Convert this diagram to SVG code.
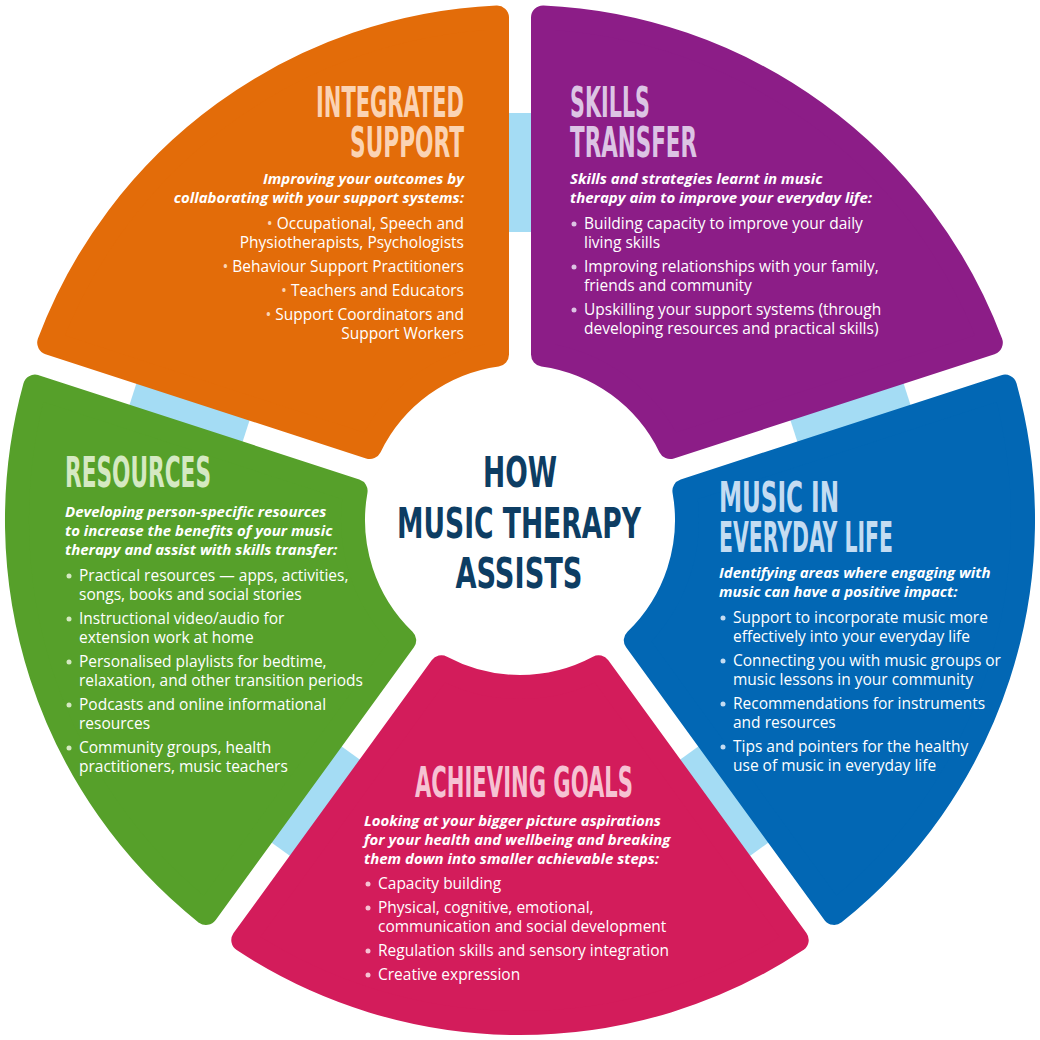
<svg xmlns="http://www.w3.org/2000/svg" width="1040" height="1040" viewBox="0 0 1040 1040">
<style>
.seg{stroke-width:24;stroke-linejoin:round}
.h{font-family:"DejaVu Sans Condensed","DejaVu Sans",sans-serif;font-weight:bold;font-size:42px;font-stretch:condensed}
.c{fill:#0d3d63}
.i{font-family:"Open Sans",sans-serif;font-weight:bold;font-style:italic;font-size:15px;fill:#fff}
.b{font-family:"Open Sans",sans-serif;font-size:15.5px;fill:#fff}
</style>
<rect width="1040" height="1040" fill="#fff"/>
<g id="connectors" fill="#a4dcf4">
<rect x="288" y="-12" width="119" height="24" transform="translate(520 520) rotate(-90)"/>
<rect x="288" y="-12" width="119" height="24" transform="translate(520 520) rotate(-18)"/>
<rect x="288" y="-12" width="119" height="24" transform="translate(520 520) rotate(54)"/>
<rect x="288" y="-12" width="119" height="24" transform="translate(520 520) rotate(126)"/>
<rect x="288" y="-12" width="119" height="24" transform="translate(520 520) rotate(198)"/>
</g>
<g id="integrated">
<path class="seg" fill="#e36c09" stroke="#e36c09" d="M49.2 342.8 A503 503 0 0 1 497 17.5 L497 354.6 A167 167 0 0 0 369.8 447 Z"/>
<g fill="#fbd3b3" class="h" text-anchor="end"><text x="464" y="117" textLength="148" lengthAdjust="spacingAndGlyphs">INTEGRATED</text><text x="464" y="157" textLength="114" lengthAdjust="spacingAndGlyphs">SUPPORT</text></g>
<g text-anchor="end"><text class="i" x="464" y="184">Improving your outcomes by</text><text class="i" x="464" y="203">collaborating with your support systems:</text>
<text class="b" x="464" y="229"><tspan fill="#fbd3b3">•</tspan>  Occupational, Speech and</text><text class="b" x="464" y="248">Physiotherapists, Psychologists</text><text class="b" x="464" y="272"><tspan fill="#fbd3b3">•</tspan>  Behaviour Support Practitioners</text><text class="b" x="464" y="296"><tspan fill="#fbd3b3">•</tspan>  Teachers and Educators</text><text class="b" x="464" y="320"><tspan fill="#fbd3b3">•</tspan>  Support Coordinators and</text><text class="b" x="464" y="339">Support Workers</text></g>
</g>
<g id="skills">
<path class="seg" fill="#8c1d87" stroke="#8c1d87" d="M543 17.5 A503 503 0 0 1 990.8 342.8 L670.2 447 A167 167 0 0 0 543 354.6 Z"/>
<g fill="#dcc4e4" class="h"><text x="570" y="117" textLength="80" lengthAdjust="spacingAndGlyphs">SKILLS</text><text x="570" y="157" textLength="127" lengthAdjust="spacingAndGlyphs">TRANSFER</text></g>
<text class="i" x="570" y="184">Skills and strategies learnt in music</text><text class="i" x="570" y="203">therapy aim to improve your everyday life:</text>
<text class="b" x="584" y="229">Building capacity to improve your daily</text><text class="b" x="584" y="248">living skills</text>
<text class="b" x="584" y="272">Improving relationships with your family,</text><text class="b" x="584" y="291">friends and community</text>
<text class="b" x="584" y="315">Upskilling your support systems (through</text><text class="b" x="584" y="334">developing resources and practical skills)</text>
<g fill="#dcc4e4"><circle cx="574" cy="224" r="2.5"/><circle cx="574" cy="267" r="2.5"/><circle cx="574" cy="310" r="2.5"/></g>
</g>
<g id="music">
<path class="seg" fill="#0267b4" stroke="#0267b4" d="M1005 386.6 A503 503 0 0 1 834.1 912.9 L635.8 640.3 A167 167 0 0 0 684.4 490.8 Z"/>
<g fill="#c4dcf2" class="h"><text x="719" y="512" textLength="120" lengthAdjust="spacingAndGlyphs">MUSIC IN</text><text x="719" y="552" textLength="174" lengthAdjust="spacingAndGlyphs">EVERYDAY LIFE</text></g>
<text class="i" x="719" y="578">Identifying areas where engaging with</text><text class="i" x="719" y="597">music can have a positive impact:</text>
<text class="b" x="733" y="623">Support to incorporate music more</text><text class="b" x="733" y="642">effectively into your everyday life</text>
<text class="b" x="733" y="666">Connecting you with music groups or</text><text class="b" x="733" y="685">music lessons in your community</text>
<text class="b" x="733" y="709">Recommendations for instruments</text><text class="b" x="733" y="728">and resources</text>
<text class="b" x="733" y="752">Tips and pointers for the healthy</text><text class="b" x="733" y="771">use of music in everyday life</text>
<g fill="#c4dcf2"><circle cx="723" cy="618" r="2.5"/><circle cx="723" cy="661" r="2.5"/><circle cx="723" cy="704" r="2.5"/><circle cx="723" cy="747" r="2.5"/></g>
</g>
<g id="goals">
<path class="seg" fill="#d31c5b" stroke="#d31c5b" d="M796.7 940.1 A503 503 0 0 1 243.3 940.1 L441.4 667.3 A167 167 0 0 0 598.6 667.3 Z"/>
<text class="h" fill="#f6c2d3" x="415" y="797" textLength="218" lengthAdjust="spacingAndGlyphs">ACHIEVING GOALS</text>
<text class="i" x="364" y="826">Looking at your bigger picture aspirations</text><text class="i" x="364" y="845">for your health and wellbeing and breaking</text><text class="i" x="364" y="864">them down into smaller achievable steps:</text>
<text class="b" x="378" y="889">Capacity building</text>
<text class="b" x="378" y="913">Physical, cognitive, emotional,</text><text class="b" x="378" y="932">communication and social development</text>
<text class="b" x="378" y="956">Regulation skills and sensory integration</text>
<text class="b" x="378" y="980">Creative expression</text>
<g fill="#f6c2d3"><circle cx="368" cy="884" r="2.5"/><circle cx="368" cy="908" r="2.5"/><circle cx="368" cy="951" r="2.5"/><circle cx="368" cy="975" r="2.5"/></g>
</g>
<g id="resources">
<path class="seg" fill="#56a02a" stroke="#56a02a" d="M206 913 A503 503 0 0 1 35 386.6 L355.6 490.8 A167 167 0 0 0 404.2 640.3 Z"/>
<text class="h" fill="#d5e9c2" x="65" y="487" textLength="146" lengthAdjust="spacingAndGlyphs">RESOURCES</text>
<text class="i" x="65" y="517">Developing person-specific resources</text><text class="i" x="65" y="536">to increase the benefits of your music</text><text class="i" x="65" y="555">therapy and assist with skills transfer:</text>
<text class="b" x="79" y="581">Practical resources — apps, activities,</text><text class="b" x="79" y="600">songs, books and social stories</text>
<text class="b" x="79" y="624">Instructional video/audio for</text><text class="b" x="79" y="643">extension work at home</text>
<text class="b" x="79" y="667">Personalised playlists for bedtime,</text><text class="b" x="79" y="686">relaxation, and other transition periods</text>
<text class="b" x="79" y="710">Podcasts and online informational</text><text class="b" x="79" y="729">resources</text>
<text class="b" x="79" y="753">Community groups, health</text><text class="b" x="79" y="772">practitioners, music teachers</text>
<g fill="#d5e9c2"><circle cx="69" cy="576" r="2.5"/><circle cx="69" cy="619" r="2.5"/><circle cx="69" cy="662" r="2.5"/><circle cx="69" cy="705" r="2.5"/><circle cx="69" cy="748" r="2.5"/></g>
</g>
<g id="center" class="h c" text-anchor="middle">
<text x="520" y="487" textLength="74" lengthAdjust="spacingAndGlyphs">HOW</text>
<text x="519" y="538" textLength="244" lengthAdjust="spacingAndGlyphs">MUSIC THERAPY</text>
<text x="519" y="588" textLength="127" lengthAdjust="spacingAndGlyphs">ASSISTS</text>
</g>
</svg>
